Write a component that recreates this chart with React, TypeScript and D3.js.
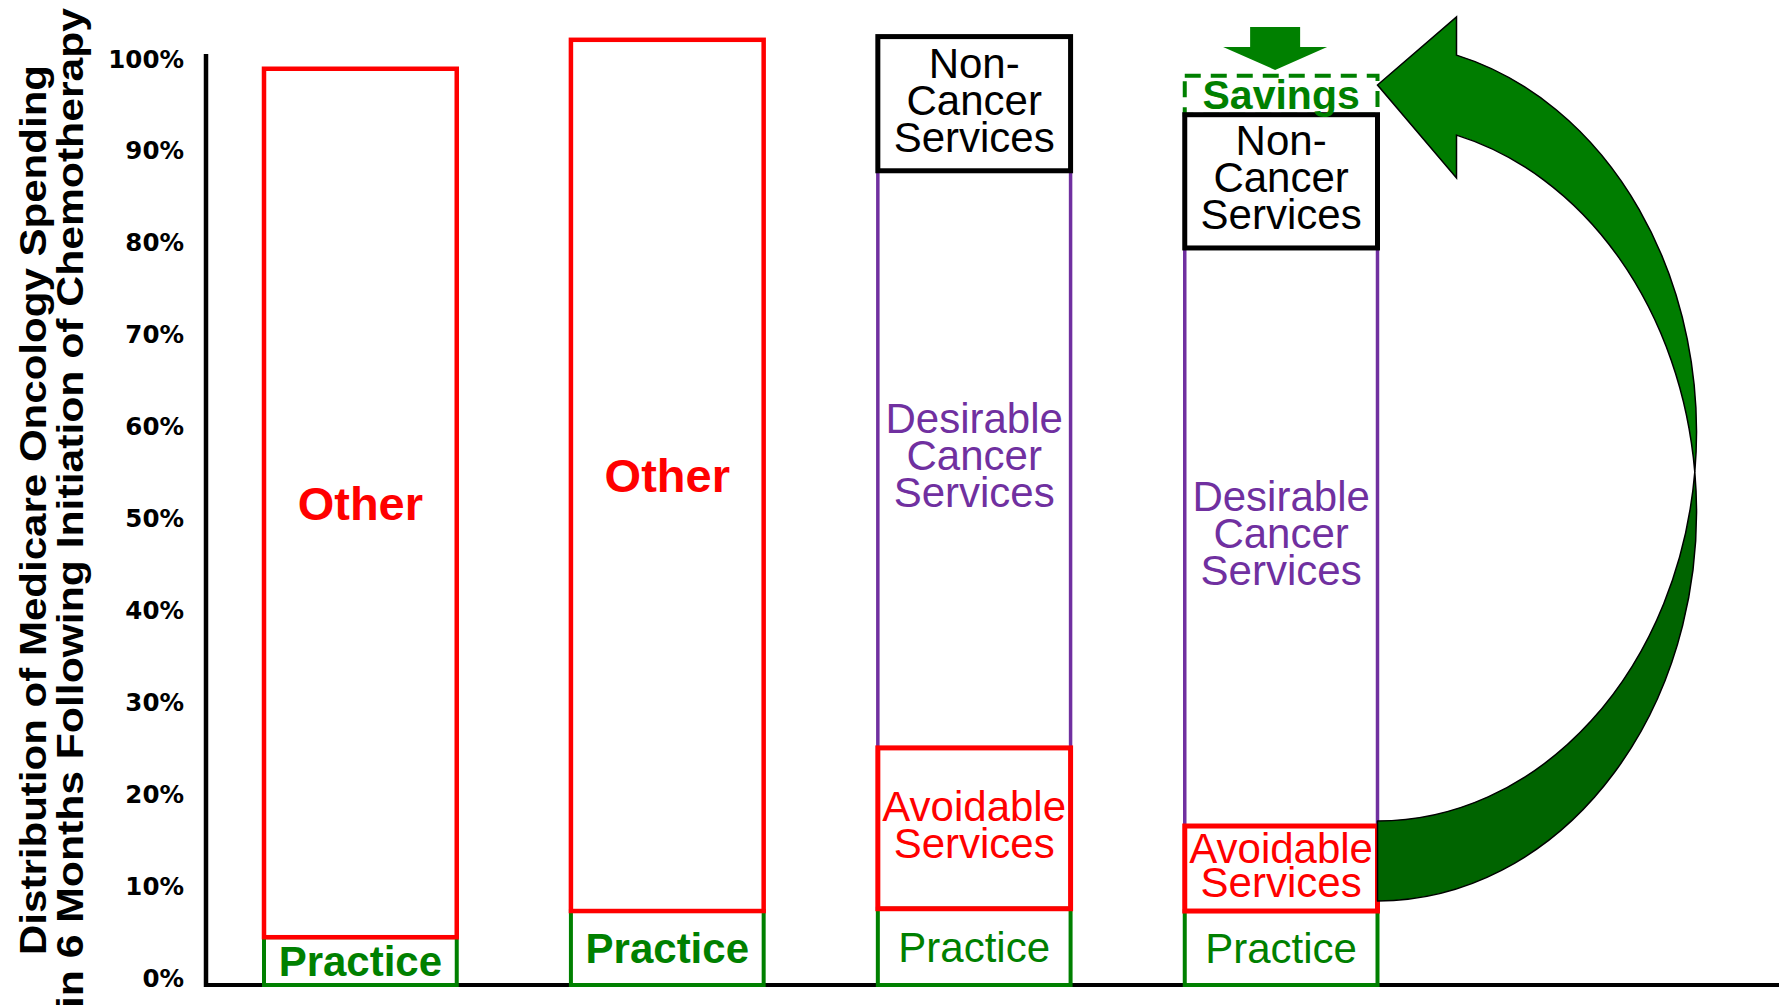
import React from "react";
import * as d3 from "d3";

const W = 1779;
const H = 1006;

// bars (no axis labels on the slide, just four stacked columns)
const categories = ["Practice A", "Practice B", "Current Care", "Redesigned Care"];

// share of spending, %
const practice = [5.2, 8.05, 8.3, 8.05];
const avoidable = [0, 0, 17.5, 9.25];
const desirable = [0, 0, 62.8, 62.9];
const other = [94.5, 94.8, 0, 0];
const nonCancer = [0, 0, 14.6, 14.5];
const savings = [0, 0, 0, 4.25];
const practiceBold = [true, true, false, false];

const yTicks = [0, 10, 20, 30, 40, 50, 60, 70, 80, 90, 100];
const titleLines = [
  "Distribution of Medicare Oncology Spending",
  "in 6 Months Following Initiation of Chemotherapy",
];

const keys = ["practice", "avoidable", "desirable", "other", "nonCancer", "savings"];
const drawOrder = ["practice", "desirable", "avoidable", "other", "savings", "nonCancer"];

const labels: Record<string, string[]> = {
  practice: ["Practice"],
  avoidable: ["Avoidable", "Services"],
  desirable: ["Desirable", "Cancer", "Services"],
  other: ["Other"],
  nonCancer: ["Non-", "Cancer", "Services"],
  savings: ["Savings"],
};

const style: Record<string, any> = {
  practice: { stroke: "#008000", sw: 4, text: "#008000", size: 42, bold: false },
  avoidable: { stroke: "#FF0000", sw: 5, text: "#FF0000", size: 42, bold: false },
  desirable: { stroke: "#7030A0", sw: 3.5, text: "#7030A0", size: 42, bold: false },
  other: { stroke: "#FF0000", sw: 4.5, text: "#FF0000", size: 47, bold: true },
  nonCancer: { stroke: "#000000", sw: 5, text: "#000000", size: 42, bold: false },
  savings: { stroke: "#008000", sw: 4, text: "#008000", size: 41, bold: true, dash: "16 10" },
};

const FONT = "'Liberation Sans', Arial, Helvetica, sans-serif";

export default function App() {
  const rows = categories.map((c, i) => ({
    category: c,
    practice: practice[i],
    avoidable: avoidable[i],
    desirable: desirable[i],
    other: other[i],
    nonCancer: nonCancer[i],
    savings: savings[i],
  }));
  const stacked = d3.stack<any>().keys(keys)(rows);
  const byKey: Record<string, any> = {};
  stacked.forEach((s) => (byKey[s.key] = s));

  const x = d3.scaleBand().domain(categories).range([264, 1377.5]).paddingInner(0.372).paddingOuter(0);
  const y = d3.scaleLinear().domain([0, 100]).range([985, 66]);
  const bw = x.bandwidth();

  const axisX = 206;

  // curved "savings" arrow from the last bar's avoidable box back to the top
  const last = categories[categories.length - 1];
  const cx = (x(last) as number) + bw;
  const a = 319;
  const r = 389;
  const c1 = 512;
  const c2 = c1 - 80;
  const s = (c1 - c2) / 2 / r;
  const crossX = cx + a * Math.sqrt(1 - s * s);
  const crossY = (c1 + c2) / 2;
  const headX = cx + 79;
  const k = Math.sqrt(1 - ((headX - cx) / a) ** 2);
  const outerTop = c2 - r * k;
  const innerTop = c1 - r * k;
  const upperPath = `M${headX},${outerTop} A${a},${r} 0 0 1 ${crossX},${crossY} A${a},${r} 0 0 0 ${headX},${innerTop} L${headX},178 L${cx},85 L${headX},17 Z`;
  const lowerPath = `M${crossX},${crossY} A${a},${r} 0 0 1 ${cx},${c1 + r} L${cx},${c2 + r} A${a},${r} 0 0 0 ${crossX},${crossY} Z`;

  // small down arrow above the savings box
  const ac = (x(last) as number) + bw / 2 - 6;
  const downArrow = `M${ac - 25},27 L${ac + 25},27 L${ac + 25},47 L${ac + 52},47 L${ac},70 L${ac - 52},47 L${ac - 25},47 Z`;

  return (
    <svg width={W} height={H} style={{ position: "fixed", left: 0, top: 0, background: "#fff" }}>
      {/* axes */}
      <line x1={axisX - 2} x2={W} y1={y(0)} y2={y(0)} stroke="#000" strokeWidth={4} />
      <line x1={axisX} x2={axisX} y1={54} y2={y(0) + 2} stroke="#000" strokeWidth={4.5} />
      {yTicks.map((t) => (
        <text
          key={t}
          x={184}
          y={y(t) - 7}
          textAnchor="end"
          dominantBaseline="central"
          fontFamily="'DejaVu Sans', Verdana, sans-serif"
          fontWeight="bold"
          fontSize={24.5}
          fill="#000"
        >
          {t}%
        </text>
      ))}

      {/* y title */}
      <text
        transform="translate(46,510) rotate(-90)"
        textAnchor="middle"
        fontFamily={FONT}
        fontWeight="bold"
        fontSize={36}
        textLength={890}
        lengthAdjust="spacingAndGlyphs"
      >
        {titleLines[0]}
      </text>
      <text
        transform="translate(83,508) rotate(-90)"
        textAnchor="middle"
        fontFamily={FONT}
        fontWeight="bold"
        fontSize={37}
        textLength={1000}
        lengthAdjust="spacingAndGlyphs"
      >
        {titleLines[1]}
      </text>

      {/* bars */}
      {drawOrder.map((key) =>
        byKey[key].map((d: any, i: number) => {
          if (d[1] - d[0] <= 0) return null;
          const st = style[key];
          const x0 = x(d.data.category) as number;
          return (
            <rect
              key={key + i}
              x={x0}
              y={y(d[1])}
              width={bw}
              height={y(d[0]) - y(d[1])}
              fill="none"
              stroke={st.stroke}
              strokeWidth={st.sw}
              strokeDasharray={st.dash}
            />
          );
        })
      )}

      {/* segment labels */}
      {drawOrder.map((key) =>
        byKey[key].map((d: any, i: number) => {
          if (d[1] - d[0] <= 0) return null;
          const st = style[key];
          const lines = labels[key];
          const top = y(d[1]);
          const bot = y(d[0]);
          const n = lines.length;
          const lh = Math.min(37, (bot - top) * 0.4);
          const cy = (top + bot) / 2 - (n > 1 ? 4 : 0);
          const bold = key === "practice" ? practiceBold[i] : st.bold;
          return (
            <text
              key={"t" + key + i}
              x={(x(d.data.category) as number) + bw / 2}
              textAnchor="middle"
              dominantBaseline="central"
              fontFamily={FONT}
              fontSize={st.size}
              fontWeight={bold ? "bold" : "normal"}
              fill={st.text}
            >
              {lines.map((ln, j) => (
                <tspan key={j} x={(x(d.data.category) as number) + bw / 2} y={cy + (j - (n - 1) / 2) * lh}>
                  {ln}
                </tspan>
              ))}
            </text>
          );
        })
      )}

      {/* arrows */}
      <path d={downArrow} fill="#008000" />
      <path d={lowerPath} fill="#006400" stroke="#000" strokeWidth={1.5} strokeLinejoin="round" />
      <path d={upperPath} fill="#007D00" stroke="#000" strokeWidth={1.5} strokeLinejoin="miter" />
    </svg>
  );
}
